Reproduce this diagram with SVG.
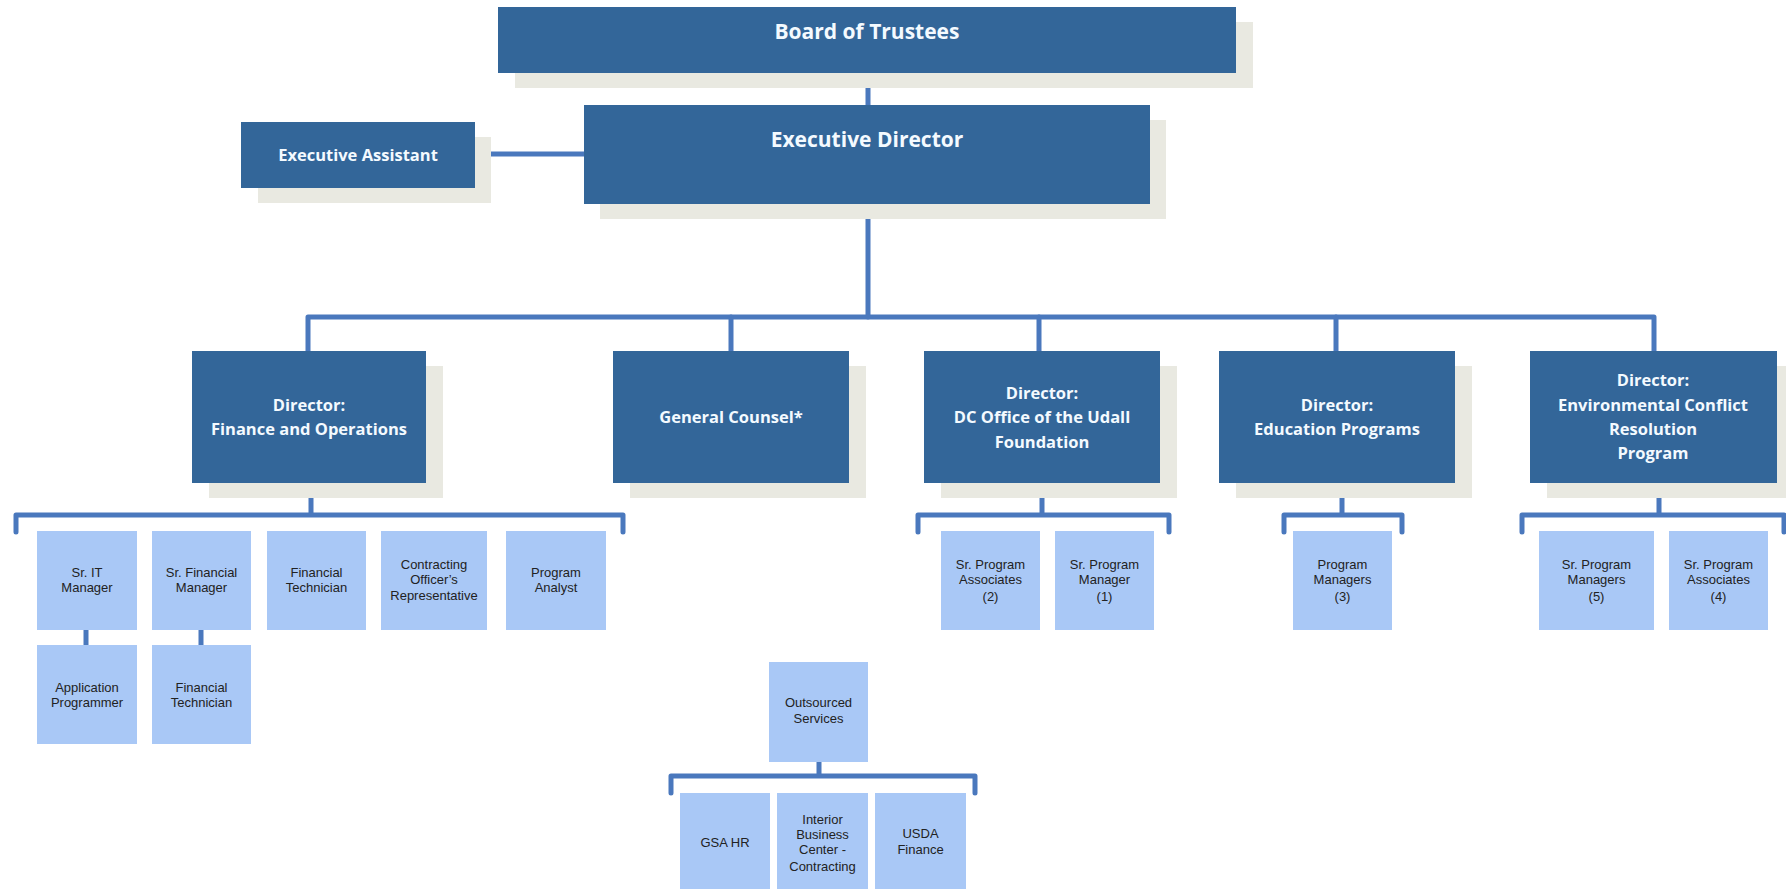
<svg xmlns="http://www.w3.org/2000/svg" width="1786" height="889" viewBox="0 0 1786 889">
<style>
.sh{fill:#e9e9e1}
.dk{fill:#336699}
.lt{fill:#a9c8f6}
.tw{fill:#f4faff;font-family:"Open Sans","Liberation Sans",sans-serif;font-weight:700;text-anchor:middle}
.tb{fill:#222;font-family:"Liberation Sans",Arial,sans-serif;font-size:13px;text-anchor:middle}
.cn{stroke:#4a78bd;stroke-width:5;fill:none;stroke-linecap:round;stroke-linejoin:round}
</style>
<rect width="1786" height="889" fill="#ffffff"/>
<g id="connectors" class="cn">
<path d="M868 73V105"/>
<path d="M475 154H584"/>
<path d="M868 204V317"/>
<path d="M308 351V317H1654V351"/>
<path d="M731 317V351M1039 317V351M1336 317V351"/>
<path d="M311 498V515M16 532V515H623V532"/>
<path d="M86 630V645M201 630V645"/>
<path d="M1042 498V515M918 532V515H1169V532"/>
<path d="M1342 493V515M1284 532V515H1402V532"/>
<path d="M1659 493V515M1522 532V515H1784V532"/>
<path d="M819 762V776M671 793V776H975V793"/>
</g>
<g id="board">
<rect class="sh" x="515" y="22" width="738" height="66"/>
<rect class="dk" x="498" y="7" width="738" height="66"/>
<text class="tw" x="867" y="39" font-size="21">Board of Trustees</text>
</g>
<g id="exec-director">
<rect class="sh" x="600" y="120" width="566" height="99"/>
<rect class="dk" x="584" y="105" width="566" height="99"/>
<text class="tw" x="867" y="147" font-size="21">Executive Director</text>
</g>
<g id="exec-assistant">
<rect class="sh" x="258" y="137" width="233" height="66"/>
<rect class="dk" x="241" y="122" width="234" height="66"/>
<text class="tw" x="358" y="161" font-size="16.5">Executive Assistant</text>
</g>
<g id="dir-finance">
<rect class="sh" x="209" y="366" width="234" height="132"/>
<rect class="dk" x="192" y="351" width="234" height="132"/>
<text class="tw" x="309" y="411" font-size="16.5">Director:</text>
<text class="tw" x="309" y="435" font-size="16.5">Finance and Operations</text>
</g>
<g id="general-counsel">
<rect class="sh" x="630" y="366" width="236" height="132"/>
<rect class="dk" x="613" y="351" width="236" height="132"/>
<text class="tw" x="731" y="423" font-size="16.5">General Counsel*</text>
</g>
<g id="dir-dc">
<rect class="sh" x="941" y="366" width="236" height="132"/>
<rect class="dk" x="924" y="351" width="236" height="132"/>
<text class="tw" x="1042" y="399" font-size="16.5">Director:</text>
<text class="tw" x="1042" y="423" font-size="16.5">DC Office of the Udall</text>
<text class="tw" x="1042" y="448" font-size="16.5">Foundation</text>
</g>
<g id="dir-education">
<rect class="sh" x="1236" y="366" width="236" height="132"/>
<rect class="dk" x="1219" y="351" width="236" height="132"/>
<text class="tw" x="1337" y="411" font-size="16.5">Director:</text>
<text class="tw" x="1337" y="435" font-size="16.5">Education Programs</text>
</g>
<g id="dir-ecr">
<rect class="sh" x="1547" y="366" width="247" height="132"/>
<rect class="dk" x="1530" y="351" width="247" height="132"/>
<text class="tw" x="1653" y="386" font-size="16.5">Director:</text>
<text class="tw" x="1653" y="411" font-size="16.5">Environmental Conflict</text>
<text class="tw" x="1653" y="435" font-size="16.5">Resolution</text>
<text class="tw" x="1653" y="459" font-size="16.5">Program</text>
</g>
<g id="sr-it-manager">
<rect class="lt" x="37" y="531" width="100" height="99"/>
<text class="tb" x="87" y="577">Sr. IT</text>
<text class="tb" x="87" y="592">Manager</text>
</g>
<g id="sr-financial-manager">
<rect class="lt" x="152" y="531" width="99" height="99"/>
<text class="tb" x="201.5" y="577">Sr. Financial</text>
<text class="tb" x="201.5" y="592">Manager</text>
</g>
<g id="financial-technician-1">
<rect class="lt" x="267" y="531" width="99" height="99"/>
<text class="tb" x="316.5" y="577">Financial</text>
<text class="tb" x="316.5" y="592">Technician</text>
</g>
<g id="contracting-officer">
<rect class="lt" x="381" y="531" width="106" height="99"/>
<text class="tb" x="434" y="569">Contracting</text>
<text class="tb" x="434" y="584">Officer’s</text>
<text class="tb" x="434" y="600">Representative</text>
</g>
<g id="program-analyst">
<rect class="lt" x="506" y="531" width="100" height="99"/>
<text class="tb" x="556" y="577">Program</text>
<text class="tb" x="556" y="592">Analyst</text>
</g>
<g id="application-programmer">
<rect class="lt" x="37" y="645" width="100" height="99"/>
<text class="tb" x="87" y="692">Application</text>
<text class="tb" x="87" y="707">Programmer</text>
</g>
<g id="financial-technician-2">
<rect class="lt" x="152" y="645" width="99" height="99"/>
<text class="tb" x="201.5" y="692">Financial</text>
<text class="tb" x="201.5" y="707">Technician</text>
</g>
<g id="sr-program-associates-dc">
<rect class="lt" x="941" y="531" width="99" height="99"/>
<text class="tb" x="990.5" y="569">Sr. Program</text>
<text class="tb" x="990.5" y="584">Associates</text>
<text class="tb" x="990.5" y="601">(2)</text>
</g>
<g id="sr-program-manager-dc">
<rect class="lt" x="1055" y="531" width="99" height="99"/>
<text class="tb" x="1104.5" y="569">Sr. Program</text>
<text class="tb" x="1104.5" y="584">Manager</text>
<text class="tb" x="1104.5" y="601">(1)</text>
</g>
<g id="program-managers-edu">
<rect class="lt" x="1293" y="531" width="99" height="99"/>
<text class="tb" x="1342.5" y="569">Program</text>
<text class="tb" x="1342.5" y="584">Managers</text>
<text class="tb" x="1342.5" y="601">(3)</text>
</g>
<g id="sr-program-managers-ecr">
<rect class="lt" x="1539" y="531" width="115" height="99"/>
<text class="tb" x="1596.5" y="569">Sr. Program</text>
<text class="tb" x="1596.5" y="584">Managers</text>
<text class="tb" x="1596.5" y="601">(5)</text>
</g>
<g id="sr-program-associates-ecr">
<rect class="lt" x="1669" y="531" width="99" height="99"/>
<text class="tb" x="1718.5" y="569">Sr. Program</text>
<text class="tb" x="1718.5" y="584">Associates</text>
<text class="tb" x="1718.5" y="601">(4)</text>
</g>
<g id="outsourced-services">
<rect class="lt" x="769" y="662" width="99" height="100"/>
<text class="tb" x="818.5" y="707">Outsourced</text>
<text class="tb" x="818.5" y="723">Services</text>
</g>
<g id="gsa-hr">
<rect class="lt" x="680" y="793" width="90" height="96"/>
<text class="tb" x="725" y="847">GSA HR</text>
</g>
<g id="interior-business-center">
<rect class="lt" x="777" y="793" width="91" height="96"/>
<text class="tb" x="822.5" y="824">Interior</text>
<text class="tb" x="822.5" y="839">Business</text>
<text class="tb" x="822.5" y="854">Center -</text>
<text class="tb" x="822.5" y="871">Contracting</text>
</g>
<g id="usda-finance">
<rect class="lt" x="875" y="793" width="91" height="96"/>
<text class="tb" x="920.5" y="838">USDA</text>
<text class="tb" x="920.5" y="854">Finance</text>
</g>
</svg>
